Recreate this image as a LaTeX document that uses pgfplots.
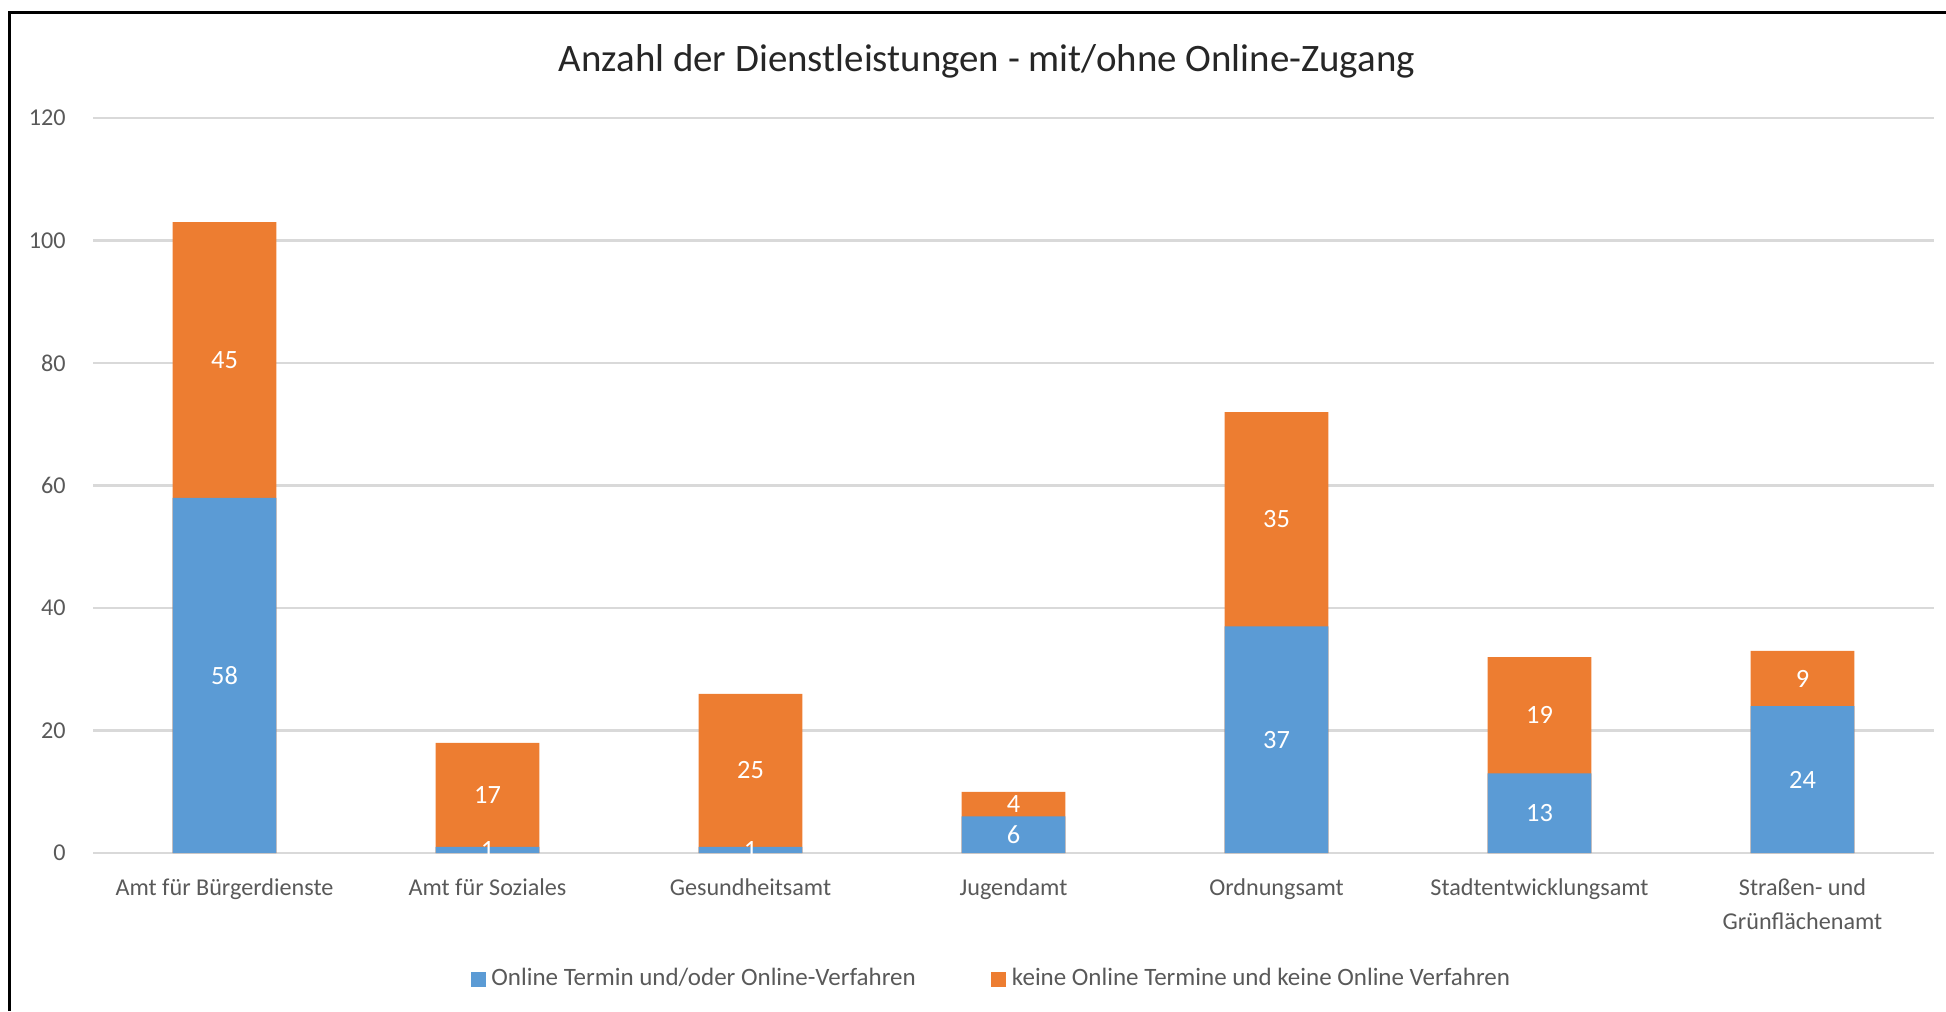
\documentclass[border=0pt]{standalone}
\usepackage{pgfplots}
\pgfplotsset{compat=1.18}
\usepackage{pgfplotstable}
\usepackage{fontspec}
\setmainfont{Carlito}
\definecolor{cblue}{HTML}{5B9BD5}
\definecolor{corange}{HTML}{ED7D31}
\definecolor{cgrid}{HTML}{D9D9D9}
\definecolor{ctext}{HTML}{595959}
\definecolor{ctitle}{HTML}{262626}
\pgfplotsset{sqlegend/.style={legend image code/.code={\fill[##1] (0pt,-2.7pt) rectangle (5.4pt,2.7pt);}}}
\pgfplotstableread{
x on off
0 58 45
1 1 17
2 1 25
3 6 4
4 37 35
5 13 19
6 24 9
}\data
\begin{document}
\begin{tikzpicture}
\begin{axis}[
  at={(0pt,0pt)}, anchor=south west,
  scale only axis, width=662.76pt, height=264.6pt,
  xmin=-0.5, xmax=6.5, ymin=0, ymax=120,
  ytick={0,20,...,120},
  xtick={0,...,6},
  xticklabels={Amt für Bürgerdienste, Amt für Soziales, Gesundheitsamt, Jugendamt, Ordnungsamt, Stadtentwicklungsamt, {Straßen- und\\Grünflächenamt}},
  /pgf/number format/assume math mode=true,
  font=\fontsize{8.6}{12.2}\selectfont,
  ticklabel style={text=ctext, font=\fontsize{8.7}{12.2}\selectfont},
  xticklabel style={align=center, anchor=north, inner sep=0pt, yshift=-9pt},
  yticklabel style={anchor=east, inner sep=0pt, xshift=-9.7pt},
  axis line style={draw=none},
  major tick style={draw=none},
  ymajorgrids,
  grid style={cgrid, line width=0.8pt},
  title={Anzahl der Dienstleistungen - mit/ohne Online-Zugang},
  title style={at={(0.4856,1)}, anchor=center, yshift=14.3pt, inner sep=0pt, text=ctitle, font=\fontsize{14}{16}\selectfont},
  legend columns=2,
  legend style={at={(0.489,0)}, anchor=center, yshift=-45.5pt, draw=none, fill=none,
    font=\fontsize{9}{12.2}\selectfont, text=ctext,
    /tikz/every even column/.append style={column sep=25.2pt}},
  legend cell align=left,
]
\addplot[ybar, bar width=37.4pt, bar shift=0pt, fill=corange, draw=none, forget plot]
  table[x=x, y expr=\thisrow{on}+\thisrow{off}] {\data};
\addplot[ybar, bar width=37.4pt, bar shift=0pt, fill=cblue, draw=none, forget plot]
  table[x=x, y=on] {\data};
\addplot[draw=none, mark=none, forget plot, nodes near coords, point meta=explicit symbolic,
  every node near coord/.append style={anchor=center, text=white, font=\fontsize{9.5}{12.2}\selectfont}]
  table[x=x, y expr=\thisrow{on}/2, meta=on] {\data};
\addplot[draw=none, mark=none, forget plot, nodes near coords, point meta=explicit symbolic,
  every node near coord/.append style={anchor=center, text=white, font=\fontsize{9.5}{12.2}\selectfont}]
  table[x=x, y expr=\thisrow{on}+\thisrow{off}/2, meta=off] {\data};
\addlegendimage{sqlegend, fill=cblue, draw=none}
\addlegendentry{Online Termin und/oder Online-Verfahren}
\addlegendimage{sqlegend, fill=corange, draw=none}
\addlegendentry{keine Online Termine und keine Online Verfahren}
\end{axis}
\pgfresetboundingbox
\path[use as bounding box] (-33.48pt,-56.88pt) rectangle (667.08pt,307.08pt);
\draw[line width=1pt] (-29.95pt,-56.88pt) -- (-29.95pt,302.5pt) -- (667.08pt,302.5pt);
\end{tikzpicture}
\end{document}
